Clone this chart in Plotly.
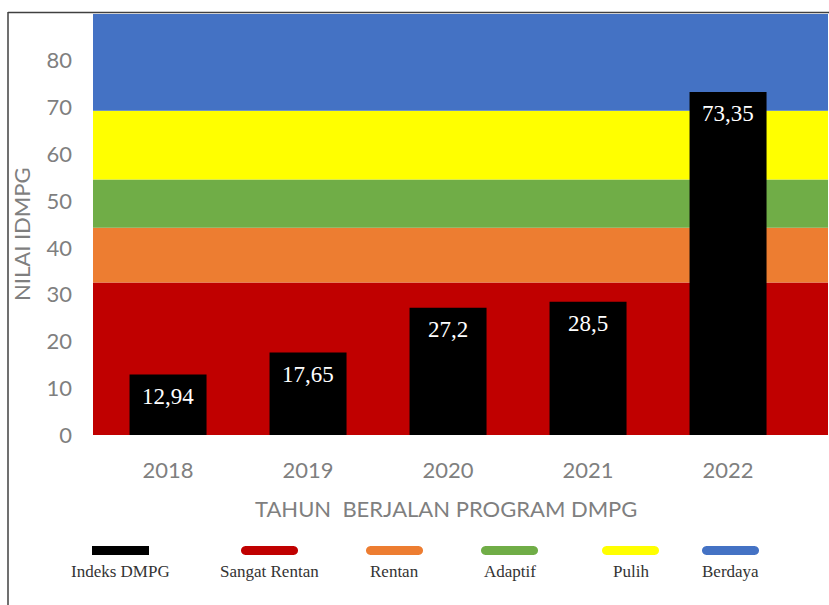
import plotly.graph_objects as go

# ---- data ----
years = ["2018", "2019", "2020", "2021", "2022"]
values = [12.94, 17.65, 27.2, 28.5, 73.35]
value_labels = ["12,94", "17,65", "27,2", "28,5", "73,35"]

band_names = ["Sangat Rentan", "Rentan", "Adaptif", "Pulih", "Berdaya"]
band_low = [0, 32.6, 44.3, 54.6, 69.3]
band_high = [32.6, 44.3, 54.6, 69.3, 90]
band_colors = ["#C00000", "#ED7D31", "#70AD47", "#FFFF00", "#4472C4"]

series_name = "Indeks DMPG"
y_ticks = [0, 10, 20, 30, 40, 50, 60, 70, 80]

W, H = 829, 605
ML, MR, MT, MB = 93, 1, 14, 170
PW, PH = W - ML - MR, H - MT - MB

def px_x(px):
    return (px - ML) / PW

def px_y(py):
    return (H - MB - py) / PH

xpos = list(range(len(years)))

fig = go.Figure()
fig.add_trace(go.Bar(
    x=xpos, y=values, width=0.55, marker=dict(color="#000000", line=dict(width=0)),
    name=series_name, showlegend=False, hoverinfo="skip",
))

shapes = []
for lo, hi, c in zip(band_low, band_high, band_colors):
    shapes.append(dict(type="rect", xref="paper", yref="y", x0=0, x1=1, y0=lo, y1=hi,
                       fillcolor=c, line=dict(width=0), layer="below"))

annotations = []
for xi, v, lab in zip(xpos, values, value_labels):
    annotations.append(dict(x=xi, y=v, xref="x", yref="y", text=lab, showarrow=False,
                            yanchor="middle", yshift=-22,
                            font=dict(family="Liberation Serif", size=23, color="#FFFFFF")))

# frame lines (left and top)
shapes.append(dict(type="line", xref="paper", yref="paper", x0=px_x(8), x1=px_x(8),
                   y0=px_y(12), y1=px_y(606), line=dict(color="#404040", width=1.5)))
shapes.append(dict(type="line", xref="paper", yref="paper", x0=px_x(8), x1=px_x(830),
                   y0=px_y(12.5), y1=px_y(12.5), line=dict(color="#404040", width=1.5)))

# legend (manual)
legend_names = [series_name] + band_names
legend_colors = ["#000000"] + band_colors
legend_centers = [120.5, 269.5, 394.5, 509.5, 630.5, 730.5]
for i, (nm, col, cx) in enumerate(zip(legend_names, legend_colors, legend_centers)):
    if i == 0:
        path = "M -28.5,-4.5 L 28.5,-4.5 L 28.5,4.5 L -28.5,4.5 Z"
    else:
        path = ("M -24,-4.5 L 24,-4.5 C 30,-4.5 30,4.5 24,4.5 "
                "L -24,4.5 C -30,4.5 -30,-4.5 -24,-4.5 Z")
    shapes.append(dict(type="path", xref="paper", yref="paper", xsizemode="pixel",
                       ysizemode="pixel", xanchor=px_x(cx), yanchor=px_y(550.5),
                       path=path, fillcolor=col, line=dict(width=0)))
    annotations.append(dict(x=px_x(cx), y=px_y(571), xref="paper", yref="paper", text=nm,
                            showarrow=False, xanchor="center", yanchor="middle",
                            font=dict(family="Liberation Serif", size=17, color="#333333")))

# axis titles
annotations.append(dict(x=px_x(446), y=px_y(509), xref="paper", yref="paper",
                        text="TAHUN  BERJALAN PROGRAM DMPG", showarrow=False,
                        xanchor="center", yanchor="middle",
                        font=dict(family="Lato", size=22, color="#7F7F7F")))
annotations.append(dict(x=px_x(22), y=px_y(234), xref="paper", yref="paper",
                        text="NILAI IDMPG", showarrow=False, textangle=-90,
                        xanchor="center", yanchor="middle",
                        font=dict(family="Lato", size=22, color="#7F7F7F")))

fig.update_layout(
    width=W, height=H, margin=dict(l=ML, r=MR, t=MT, b=MB),
    paper_bgcolor="#FFFFFF", plot_bgcolor="#FFFFFF",
    shapes=shapes, annotations=annotations, showlegend=False,
    xaxis=dict(range=[-0.536, 4.714], tickvals=xpos, ticktext=years, showgrid=False,
               zeroline=False, showline=False, ticks="", ticklabelstandoff=20,
               tickfont=dict(family="Lato", size=22, color="#7F7F7F")),
    yaxis=dict(range=[0, 90], tickvals=y_ticks, showgrid=False, zeroline=False,
               showline=False, ticks="", ticklabelstandoff=20,
               tickfont=dict(family="Lato", size=22, color="#7F7F7F")),
)

fig.write_html("out.html")
